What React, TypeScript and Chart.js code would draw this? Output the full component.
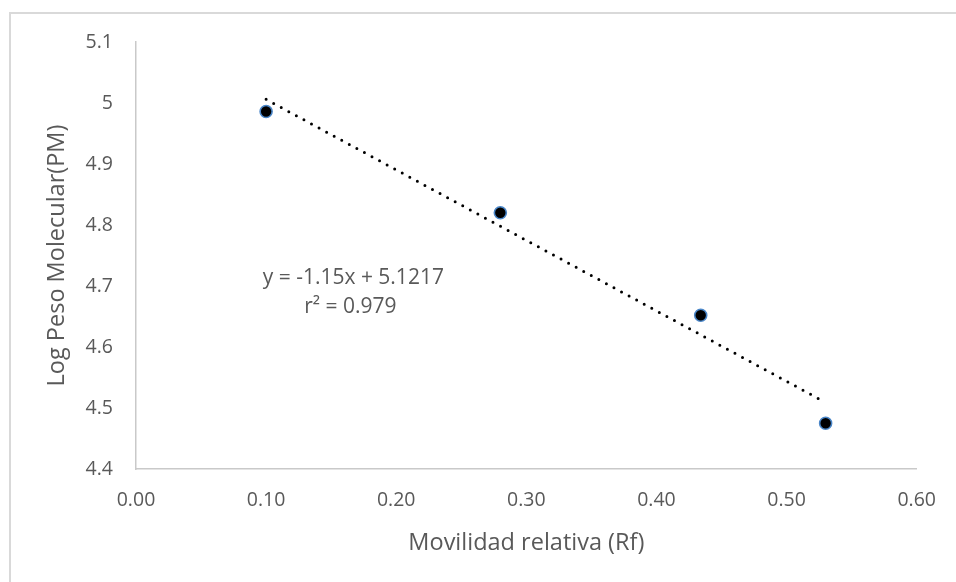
import React, { useEffect, useRef } from "react";
import { Chart, registerables } from "chart.js";

Chart.register(...registerables);

// ---- data ----
const rfValues = [0.1, 0.28, 0.434, 0.53];
const logPM = [4.986, 4.82, 4.652, 4.475];
const xTickValues = [0, 0.1, 0.2, 0.3, 0.4, 0.5, 0.6];
const yTickValues = [4.4, 4.5, 4.6, 4.7, 4.8, 4.9, 5.0, 5.1];
const equationLines = ["y = -1.15x + 5.1217", "r\u00B2 = 0.979"];
const xTitle = "Movilidad relativa (Rf)";
const yTitle = "Log Peso Molecular(PM)";
// anchor of the equation label in data units
const equationAnchor = { x: 0.167, y: 4.713 };

const FONT = "'Open Sans', sans-serif";
const TEXT = "#595959";

function linearFit(xs: number[], ys: number[]) {
  const n = xs.length;
  const mx = xs.reduce((a, b) => a + b, 0) / n;
  const my = ys.reduce((a, b) => a + b, 0) / n;
  let sxy = 0;
  let sxx = 0;
  for (let i = 0; i < n; i++) {
    sxy += (xs[i] - mx) * (ys[i] - my);
    sxx += (xs[i] - mx) * (xs[i] - mx);
  }
  const slope = sxy / sxx;
  return { slope, intercept: my - slope * mx };
}

export default function App() {
  const ref = useRef<HTMLCanvasElement | null>(null);

  useEffect(() => {
    if (!ref.current) return;
    const fit = linearFit(rfValues, logPM);
    const xMin = Math.min(...rfValues);
    const xMax = Math.max(...rfValues);
    const trend = [
      { x: xMin, y: fit.slope * xMin + fit.intercept },
      { x: xMax, y: fit.slope * xMax + fit.intercept },
    ];

    const equationPlugin = {
      id: "equationLabel",
      afterDatasetsDraw(chart: any) {
        const { ctx, scales } = chart;
        const cx = scales.x.getPixelForValue(equationAnchor.x);
        const cy = scales.y.getPixelForValue(equationAnchor.y);
        ctx.save();
        ctx.fillStyle = TEXT;
        ctx.font = `21px ${FONT}`;
        ctx.textAlign = "center";
        ctx.textBaseline = "middle";
        ctx.fillText(equationLines[0], cx, cy);
        ctx.fillText(equationLines[1], cx - 3, cy + 29);
        ctx.restore();
      },
    };

    const chart = new Chart(ref.current, {
      type: "scatter",
      data: {
        datasets: [
          {
            label: "Datos",
            data: rfValues.map((x, i) => ({ x, y: logPM[i] })),
            backgroundColor: "#000000",
            borderColor: "#4a86c8",
            pointRadius: 6,
            pointBorderWidth: 1.6,
            pointHoverRadius: 6,
          },
          {
            label: "Tendencia",
            data: trend,
            showLine: true,
            pointRadius: 0,
            borderColor: "#000000",
            borderWidth: 3,
            borderDash: [0, 8.6],
            borderCapStyle: "round",
          } as any,
        ],
      },
      options: {
        responsive: false,
        animation: false,
        events: [],
        layout: { padding: { top: 42, right: 34, left: 0, bottom: 0 } },
        plugins: {
          legend: { display: false },
          tooltip: { enabled: false },
        },
        scales: {
          x: {
            type: "linear",
            min: 0,
            max: 0.6,
            afterFit: (s: any) => {
              s.height = 113;
            },
            afterBuildTicks: (s: any) => {
              s.ticks = xTickValues.map((v) => ({ value: v }));
            },
            ticks: {
              color: TEXT,
              font: { family: FONT, size: 19.5 },
              padding: 20,
              callback: (v: any) => Number(v).toFixed(2),
            },
            grid: { display: true, drawOnChartArea: false, drawTicks: false },
            border: { display: true, color: "#c9c9c9", width: 1.5 },
            title: {
              display: true,
              text: xTitle,
              color: TEXT,
              font: { family: FONT, size: 23.5 },
              padding: { top: 0, bottom: 25 },
            },
          },
          y: {
            type: "linear",
            min: 4.4,
            max: 5.1,
            afterFit: (s: any) => {
              s.width = 136;
            },
            afterBuildTicks: (s: any) => {
              s.ticks = yTickValues.map((v) => ({ value: v }));
            },
            ticks: {
              color: TEXT,
              font: { family: FONT, size: 19.5 },
              padding: 23,
              callback: (v: any) => String(parseFloat(Number(v).toFixed(1))),
            },
            grid: { display: true, drawOnChartArea: false, drawTicks: false },
            border: { display: true, color: "#c9c9c9", width: 1.5 },
            title: {
              display: true,
              text: yTitle,
              color: TEXT,
              font: { family: FONT, size: 23.5 },
              padding: { top: 43, bottom: 0 },
            },
          },
        },
      },
      plugins: [equationPlugin],
    } as any);

    return () => chart.destroy();
  }, []);

  return (
    <div
      style={{
        position: "fixed",
        left: 0,
        top: 0,
        width: 956,
        height: 582,
        overflow: "hidden",
        background: "#ffffff",
      }}
    >
      <div
        style={{
          position: "absolute",
          left: 9,
          top: 12,
          width: 1000,
          height: 1000,
          border: "2px solid #d9d9d9",
          boxSizing: "border-box",
        }}
      />
      <canvas
        ref={ref}
        width={956}
        height={582}
        style={{ position: "absolute", left: 0, top: 0, width: 956, height: 582 }}
      />
    </div>
  );
}
